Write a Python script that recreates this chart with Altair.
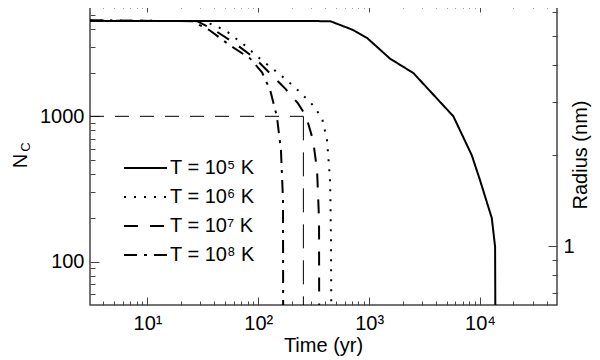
import altair as alt
import pandas as pd

FONT = "Liberation Sans"

# ---- data ----
series_labels = ["T = 10⁵ K", "T = 10⁶ K", "T = 10⁷ K", "T = 10⁸ K"]

t_1e5 = [3.03, 444, 697, 951, 1545, 2505, 5750, 8430, 10000, 12770, 13680, 13750]
n_1e5 = [4530, 4510, 3955, 3470, 2490, 1983, 1000, 540, 364, 200, 127, 45]

t_1e6 = [3.03, 31, 40.6, 53.3, 75.8, 108, 157, 228, 312, 376, 417, 444, 453, 455]
n_1e6 = [4560, 4510, 4220, 3775, 3070, 2420, 1940, 1510, 1190, 969, 684, 364, 141, 45]

t_1e7 = [3.03, 28, 40.6, 61.6, 93.3, 128, 174, 228, 270, 312, 339, 353, 354]
n_1e7 = [4550, 4510, 3890, 3170, 2500, 1970, 1556, 1228, 1000, 684, 425, 193, 45]

t_1e8 = [3.03, 25.2, 36.6, 55.6, 84.2, 108, 128, 147, 160, 167, 167.5]
n_1e8 = [4550, 4510, 3890, 3070, 2500, 2005, 1510, 1000, 585, 265, 45]

ref_n = 1000
ref_t = 255

x_domain = [3.03, 49500]
y_domain = [50.5, 5915]
r_domain = [0.637, 6.37]

x_ticks = [4, 5, 6, 7, 8, 9, 10, 20, 30, 40, 50, 60, 70, 80, 90,
           100, 200, 300, 400, 500, 600, 700, 800, 900,
           1000, 2000, 3000, 4000, 5000, 6000, 7000, 8000, 9000,
           10000, 20000, 30000, 40000]
y_ticks = [60, 70, 80, 90, 100, 200, 300, 400, 500, 600, 700, 800, 900,
           1000, 2000, 3000, 4000, 5000]
r_ticks = [0.7, 0.8, 0.9, 1, 2, 3, 4, 5, 6]

# ---- build table ----
rows = []
for lab, ts, ns in zip(series_labels, [t_1e5, t_1e6, t_1e7, t_1e8],
                       [n_1e5, n_1e6, n_1e7, n_1e8]):
    for i, (t, n) in enumerate(zip(ts, ns)):
        rows.append({"T": lab, "t": t, "n": n, "i": i})
df = pd.DataFrame(rows)

dash_range = [[1, 0], [2, 8], [14, 12], [13, 7, 3, 7]]

x_scale = alt.Scale(type="log", domain=x_domain, nice=False)
y_scale = alt.Scale(type="log", domain=y_domain, nice=False)
r_scale = alt.Scale(type="log", domain=r_domain, nice=False)

IS_DEC = "abs(log(datum.value)/LN10 - round(log(datum.value)/LN10)) < 0.001"
EXP = "round(log(datum.value)/LN10)"
x_label_expr = (f"{IS_DEC} ? ({EXP} == 1 ? '10¹' : {EXP} == 2 ? '10²' : "
                f"{EXP} == 3 ? '10³' : {EXP} == 4 ? '10⁴' : '') : ''")
y_label_expr = f"{IS_DEC} ? format(datum.value, 'd') : ''"
r_label_expr = "abs(datum.value - 1) < 0.001 ? '1' : ''"

TICK_COL = "#444444"

def inward_axis(orient, values, size, minor, label_expr, pad, is_major, labels=True):
    kw = dict(
        orient=orient, values=values, offset=-size, tickSize=size,
        domain=False, grid=False, title=None,
        tickColor=TICK_COL, tickWidth=1,
        tickDash={"condition": {"test": is_major, "value": [30, 0]},
                  "value": [0, size - minor, minor]},
        labelOverlap=False, labelFlush=False,
        labelFont=FONT, labelFontSize=20, labelColor="black",
        labelPadding=pad, labels=labels,
    )
    if labels:
        kw["labelExpr"] = label_expr
    return alt.Axis(**kw)

ax_bottom = inward_axis("bottom", x_ticks, 8, 4, x_label_expr, 8, IS_DEC)
ax_top = inward_axis("top", x_ticks, 8, 4, None, 0, IS_DEC, labels=False)
ax_left = inward_axis("left", y_ticks, 9, 5, y_label_expr, 6, IS_DEC)
ax_right = inward_axis("right", r_ticks, 9, 5, r_label_expr, 6,
                       "abs(datum.value - 1) < 0.001")

legend = alt.Legend(
    title=None, orient="none", legendX=33, legendY=154,
    symbolType="stroke", symbolSize=1849, symbolStrokeWidth=2,
    symbolStrokeColor="black", labelFont=FONT, labelFontSize=20,
    labelColor="black", labelOffset=2, clipHeight=20, rowPadding=9,
    padding=0, labelLimit=400,
)

lines = alt.Chart(df).mark_line(color="black", strokeWidth=2, clip=True).encode(
    x=alt.X("t:Q", scale=x_scale, axis=ax_bottom),
    y=alt.Y("n:Q", scale=y_scale, axis=ax_left),
    strokeDash=alt.StrokeDash("T:N", scale=alt.Scale(domain=series_labels, range=dash_range),
                              legend=legend),
    order="i:Q",
)

ref_h = alt.Chart(pd.DataFrame({"t": [x_domain[0]], "t2": [ref_t], "n": [ref_n]})).mark_rule(
    color="black", strokeWidth=1, strokeDash=[14, 11]
).encode(
    x=alt.X("t:Q", scale=x_scale, axis=ax_bottom), x2="t2:Q",
    y=alt.Y("n:Q", scale=y_scale, axis=ax_left),
)

ref_v = alt.Chart(pd.DataFrame({"t": [ref_t], "n": [ref_n], "n2": [y_domain[0]]})).mark_rule(
    color="black", strokeWidth=1, strokeDash=[24, 12]
).encode(
    x=alt.X("t:Q", scale=x_scale, axis=ax_bottom),
    y=alt.Y("n:Q", scale=y_scale, axis=ax_left), y2="n2:Q",
)

main = alt.layer(lines, ref_h, ref_v)

axes_layer = alt.Chart(pd.DataFrame({"t": x_domain, "r": r_domain})).mark_point(opacity=0).encode(
    x=alt.X("t:Q", scale=x_scale, axis=ax_top),
    y=alt.Y("r:Q", scale=r_scale, axis=ax_right),
)

one = pd.DataFrame({"k": [0]})
t_time = alt.Chart(one).mark_text(text="Time (yr)", font=FONT, fontSize=20,
                                  align="center", baseline="alphabetic", color="black").encode(
    x=alt.value(233.5), y=alt.value(348))
t_n = alt.Chart(one).mark_text(text="N", font=FONT, fontSize=20, angle=270,
                               align="center", baseline="alphabetic", color="black").encode(
    x=alt.value(-63), y=alt.value(157))
t_c = alt.Chart(one).mark_text(text="C", font=FONT, fontSize=13, angle=270,
                               align="center", baseline="alphabetic", color="black").encode(
    x=alt.value(-60), y=alt.value(143))
t_r = alt.Chart(one).mark_text(text="Radius (nm)", font=FONT, fontSize=20, angle=270,
                               align="center", baseline="alphabetic", color="black").encode(
    x=alt.value(497), y=alt.value(151))

chart = alt.layer(main, axes_layer, t_time, t_n, t_c, t_r).resolve_scale(
    y="independent"
).resolve_axis(
    x="independent", y="independent"
).properties(
    width=467, height=301,
    autosize=alt.AutoSizeParams(type="none"),
    padding={"left": 82, "top": -4, "right": 35, "bottom": 55},
    background="white",
).configure_view(stroke=TICK_COL, strokeWidth=1.5)

chart.save("out.html", embed_options={"renderer": "svg", "actions": False})
